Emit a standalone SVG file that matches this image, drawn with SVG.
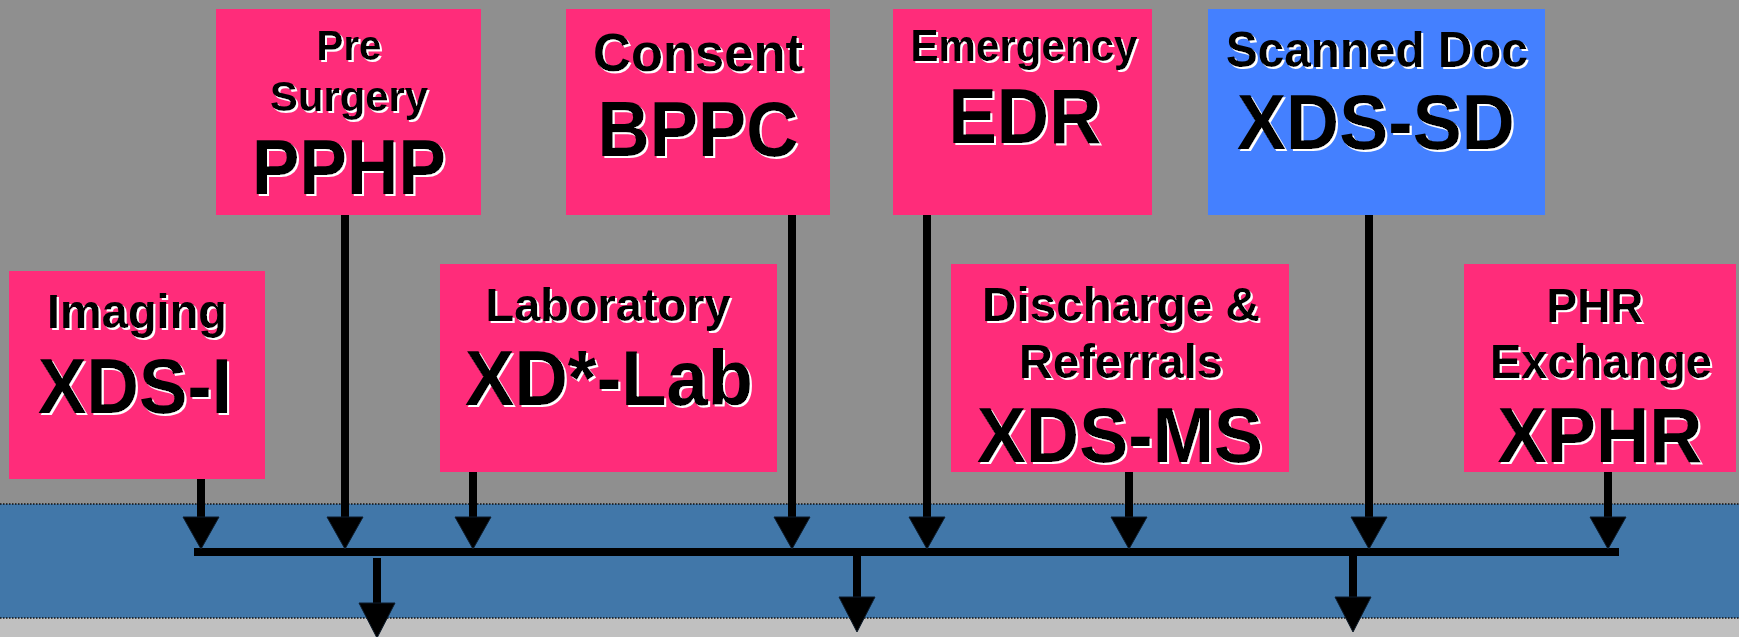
<svg xmlns="http://www.w3.org/2000/svg" width="1739" height="637" viewBox="0 0 1739 637">
<style>
.box{fill:#ff2c7a}
.blue{fill:#4480ff}
text{font-family:"Liberation Sans",Arial,sans-serif;font-weight:bold;fill:#000;text-anchor:middle;filter:url(#sh)}
.sm{font-size:47px}
.lg{font-size:77px}
.ln{stroke:#000;stroke-width:8;fill:none}
.hd{fill:#000;stroke:#0d1b2a;stroke-width:1}
.dot{stroke:#111;stroke-width:1.5;stroke-dasharray:1.5 1.5}
</style>
<defs>
<filter id="sh" x="-10%" y="-10%" width="130%" height="130%">
<feDropShadow dx="2" dy="2" stdDeviation="0" flood-color="#fff" flood-opacity="1"/>
</filter>
</defs>
<rect x="0" y="0" width="1739" height="637" fill="#8f8f8f"/>
<rect x="0" y="504" width="1739" height="114" fill="#4177a9"/>
<rect x="0" y="618" width="1739" height="19" fill="#c0c0c0"/>
<line class="dot" x1="0" y1="504" x2="1739" y2="504"/>
<line class="dot" x1="0" y1="618" x2="1739" y2="618"/>

<g id="node-pphp">
<rect class="box" x="216" y="9" width="265" height="206"/>
<text class="sm" x="349" y="60" style="font-size:43px" textLength="65" lengthAdjust="spacingAndGlyphs">Pre</text>
<text class="sm" x="349" y="111" style="font-size:43px" textLength="158" lengthAdjust="spacingAndGlyphs">Surgery</text>
<text class="lg" x="349" y="194" textLength="194" lengthAdjust="spacingAndGlyphs">PPHP</text>
</g>
<g id="node-bppc">
<rect class="box" x="566" y="9" width="264" height="206"/>
<text class="sm" x="698" y="71" style="font-size:54px" textLength="210" lengthAdjust="spacingAndGlyphs">Consent</text>
<text class="lg" x="698" y="156" textLength="201" lengthAdjust="spacingAndGlyphs">BPPC</text>
</g>
<g id="node-edr">
<rect class="box" x="893" y="9" width="259" height="206"/>
<text class="sm" x="1024" y="61" style="font-size:44px" textLength="227" lengthAdjust="spacingAndGlyphs">Emergency</text>
<text class="lg" x="1025" y="143" textLength="153" lengthAdjust="spacingAndGlyphs">EDR</text>
</g>
<g id="node-xdssd">
<rect class="blue" x="1208" y="9" width="337" height="206"/>
<text class="sm" x="1377" y="67" style="font-size:50px" textLength="302" lengthAdjust="spacingAndGlyphs">Scanned Doc</text>
<text class="lg" x="1376" y="149" textLength="278" lengthAdjust="spacingAndGlyphs">XDS-SD</text>
</g>
<g id="node-xdsi">
<rect class="box" x="9" y="271" width="256" height="208"/>
<text class="sm" x="137" y="328" style="font-size:49px" textLength="180" lengthAdjust="spacingAndGlyphs">Imaging</text>
<text class="lg" x="135" y="413" textLength="194" lengthAdjust="spacingAndGlyphs">XDS-I</text>
</g>
<g id="node-lab">
<rect class="box" x="440" y="264" width="337" height="208"/>
<text class="sm" x="608" y="321" style="font-size:47px" textLength="245" lengthAdjust="spacingAndGlyphs">Laboratory</text>
<text class="lg" x="609" y="405" textLength="288" lengthAdjust="spacingAndGlyphs">XD*-Lab</text>
</g>
<g id="node-xdsms">
<rect class="box" x="951" y="264" width="338" height="208"/>
<text class="sm" x="1121" y="321" style="font-size:48px" textLength="278" lengthAdjust="spacingAndGlyphs">Discharge &amp;</text>
<text class="sm" x="1121" y="378" style="font-size:48px" textLength="204" lengthAdjust="spacingAndGlyphs">Referrals</text>
<text class="lg" x="1120" y="462" textLength="286" lengthAdjust="spacingAndGlyphs">XDS-MS</text>
</g>
<g id="node-xphr">
<rect class="box" x="1464" y="264" width="272" height="208"/>
<text class="sm" x="1595" y="322" style="font-size:48px" textLength="97" lengthAdjust="spacingAndGlyphs">PHR</text>
<text class="sm" x="1601" y="378" style="font-size:48px" textLength="222" lengthAdjust="spacingAndGlyphs">Exchange</text>
<text class="lg" x="1600" y="462" textLength="205" lengthAdjust="spacingAndGlyphs">XPHR</text>
</g>

<g id="connectors">
<rect x="194" y="548" width="1425" height="8" fill="#000"/>
<line class="ln" x1="201" y1="479" x2="201" y2="518"/>
<polygon class="hd" points="183,517 219,517 201,549"/>
<line class="ln" x1="345" y1="215" x2="345" y2="518"/>
<polygon class="hd" points="327,517 363,517 345,549"/>
<line class="ln" x1="473" y1="472" x2="473" y2="518"/>
<polygon class="hd" points="455,517 491,517 473,549"/>
<line class="ln" x1="792" y1="215" x2="792" y2="518"/>
<polygon class="hd" points="774,517 810,517 792,549"/>
<line class="ln" x1="927" y1="215" x2="927" y2="518"/>
<polygon class="hd" points="909,517 945,517 927,549"/>
<line class="ln" x1="1129" y1="472" x2="1129" y2="518"/>
<polygon class="hd" points="1111,517 1147,517 1129,549"/>
<line class="ln" x1="1369" y1="215" x2="1369" y2="518"/>
<polygon class="hd" points="1351,517 1387,517 1369,549"/>
<line class="ln" x1="1608" y1="472" x2="1608" y2="518"/>
<polygon class="hd" points="1590,517 1626,517 1608,549"/>
<line class="ln" x1="377" y1="558" x2="377" y2="604"/>
<polygon class="hd" points="359,603 395,603 377,638"/>
<line class="ln" x1="857" y1="556" x2="857" y2="598"/>
<polygon class="hd" points="839,597 875,597 857,632"/>
<line class="ln" x1="1353" y1="556" x2="1353" y2="598"/>
<polygon class="hd" points="1335,597 1371,597 1353,632"/>
</g>
</svg>
